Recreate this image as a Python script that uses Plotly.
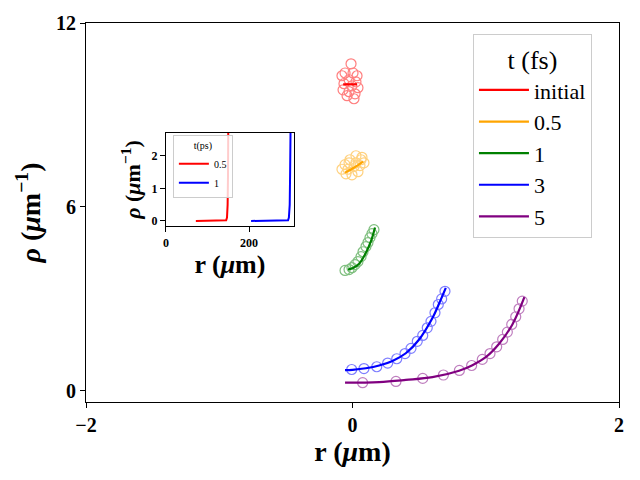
import plotly.graph_objects as go

# main panel: density profiles at early times (fs)
names = ['initial', '0.5', '1', '3', '5']
colors = ['red', 'orange', 'green', 'blue', 'purple']

# sampled points (open circles)
r_pts_init = [-0.011, -0.056, 0.004, 0.034, -0.079, -0.026, 0.026, -0.064, -0.004, 0.041, -0.071, -0.026, 0.019, -0.041, 0.011]
rho_pts_init = [10.67, 10.37, 10.37, 10.28, 10.28, 10.15, 10.08, 10.02, 9.95, 9.89, 9.82, 9.76, 9.69, 9.63, 9.53]
r_pts_05 = [-0.056, -0.019, 0.026, 0.064, 0.086, -0.079, -0.034, 0.011, 0.056, -0.049, -0.004, 0.041, -0.026, 0.026, 0.071]
rho_pts_05 = [7.38, 7.54, 7.67, 7.54, 7.44, 7.23, 7.23, 7.32, 7.35, 7.08, 7.05, 7.15, 7.44, 7.44, 7.62]
r_pts_1 = [-0.056, -0.026, -0.004, 0.019, 0.041, 0.064, 0.079, 0.101, 0.116, 0.131, 0.146, 0.161]
rho_pts_1 = [3.93, 3.96, 4.02, 4.12, 4.22, 4.38, 4.54, 4.71, 4.84, 5.00, 5.13, 5.26]
r_pts_3 = [-0.006, 0.086, 0.182, 0.264, 0.332, 0.394, 0.439, 0.486, 0.527, 0.561, 0.589, 0.619, 0.644, 0.669, 0.694]
rho_pts_3 = [0.70, 0.73, 0.79, 0.91, 1.05, 1.22, 1.39, 1.62, 1.81, 2.06, 2.27, 2.55, 2.82, 3.00, 3.25]
r_pts_5 = [0.076, 0.326, 0.527, 0.682, 0.802, 0.894, 0.974, 1.032, 1.082, 1.127, 1.162, 1.195, 1.225, 1.25, 1.274]
rho_pts_5 = [0.27, 0.31, 0.41, 0.52, 0.67, 0.83, 1.03, 1.22, 1.44, 1.68, 1.92, 2.17, 2.42, 2.68, 2.93]

# fitted curves (solid lines)
r_line_init = [-0.07, 0.034]
rho_line_init = [10.0, 10.0]
r_line_05 = [-0.056, 0.01, 0.079]
rho_line_05 = [7.12, 7.28, 7.48]
r_line_1 = [-0.034, 0.0, 0.05, 0.1, 0.14, 0.169]
rho_line_1 = [3.96, 4.0, 4.15, 4.5, 4.9, 5.33]
r_line_3 = [-0.056, 0.0, 0.1, 0.2, 0.3, 0.4, 0.5, 0.6, 0.65, 0.70]
rho_line_3 = [0.68, 0.69, 0.74, 0.83, 0.98, 1.23, 1.68, 2.38, 2.85, 3.36]
r_line_5 = [-0.056, 0.2, 0.4, 0.6, 0.8, 0.9, 1.0, 1.1, 1.2, 1.29]
rho_line_5 = [0.27, 0.29, 0.36, 0.45, 0.66, 0.84, 1.1, 1.54, 2.17, 3.06]

# inset: later times (ps)
inset_names = ['0.5', '1']
inset_colors = ['red', 'blue']
r_inset_05 = [72, 100, 130, 145, 147, 148.5, 149.5, 150]
rho_inset_05 = [0, 0, 0, 0.02, 0.1, 0.5, 1.5, 2.8]
r_inset_1 = [205, 250, 290, 294, 296, 298, 299, 300]
rho_inset_1 = [0, 0, 0, 0.02, 0.1, 0.5, 1.5, 2.8]

pts = [(r_pts_init, rho_pts_init), (r_pts_05, rho_pts_05), (r_pts_1, rho_pts_1),
       (r_pts_3, rho_pts_3), (r_pts_5, rho_pts_5)]
lines = [(r_line_init, rho_line_init), (r_line_05, rho_line_05), (r_line_1, rho_line_1),
         (r_line_3, rho_line_3), (r_line_5, rho_line_5)]

SERIF = 'Liberation Serif'
fig = go.Figure()

for (x, y), c in zip(pts, colors):
    fig.add_trace(go.Scatter(x=x, y=y, mode='markers', showlegend=False,
                             marker=dict(symbol='circle-open', size=10, color=c,
                                         line=dict(width=1.2, color=c)),
                             opacity=0.5))
for (x, y), c, n in zip(lines, colors, names):
    fig.add_trace(go.Scatter(x=x, y=y, mode='lines', name=n,
                             line=dict(color=c, width=2.2, shape='spline')))

for (x, y), c, n in zip([(r_inset_05, rho_inset_05), (r_inset_1, rho_inset_1)], inset_colors, inset_names):
    fig.add_trace(go.Scatter(x=x, y=y, mode='lines', name=n, xaxis='x2', yaxis='y2',
                             legend='legend2', line=dict(color=c, width=2)))

axis_common = dict(showline=True, linecolor='black', linewidth=1, mirror=True,
                   ticks='outside', ticklen=5, tickcolor='black', showgrid=False,
                   zeroline=False, automargin=False)

ylab = '<i>ρ</i> (<i>μ</i>m<sup>−1</sup>)'
xlab = 'r (<i>μ</i>m)'

# page body adds an 8px offset, margins compensate for it
fig.update_layout(
    width=640, height=480,
    margin=dict(l=78, r=29, t=15, b=86, autoexpand=False),
    plot_bgcolor='white', paper_bgcolor='white',
    font=dict(family=SERIF, color='black'),
    xaxis=dict(range=[-2, 2], tickvals=[-2, 0, 2], ticktext=['−2', '0', '2'],
               tickfont=dict(size=20, weight='bold'),
               title=dict(text=xlab, font=dict(size=28, weight='bold'), standoff=0),
               **axis_common),
    yaxis=dict(range=[-0.36, 12], tickvals=[0, 6, 12],
               tickfont=dict(size=20, weight='bold'),
               title=dict(text=ylab, font=dict(size=28, weight='bold'), standoff=7),
               **axis_common),
    xaxis2=dict(domain=[0.150, 0.390], anchor='y2', range=[0, 308], tickvals=[0, 200],
                tickfont=dict(size=12, weight='bold'),
                title=dict(text=xlab, font=dict(size=26, weight='bold'), standoff=2),
                **axis_common),
    yaxis2=dict(domain=[0.464, 0.710], anchor='x2', range=[-0.16, 2.7], tickvals=[0, 1, 2],
                tickfont=dict(size=12, weight='bold'),
                title=dict(text=ylab, font=dict(size=22, weight='bold'), standoff=4),
                **axis_common),
    legend=dict(title=dict(text='t (fs)', font=dict(size=26), side='top center'),
                font=dict(size=22), x=0.726, y=0.97, xanchor='left', yanchor='top',
                bgcolor='rgba(255,255,255,0.8)', bordercolor='#cccccc', borderwidth=1,
                tracegroupgap=0, itemwidth=50, entrywidth=80),
    legend2=dict(title=dict(text='t(ps)', font=dict(size=10), side='top center'),
                 font=dict(size=10), x=0.163, y=0.704, xanchor='left', yanchor='top',
                 bgcolor='rgba(255,255,255,0.8)', bordercolor='#cccccc', borderwidth=1,
                 itemwidth=30),
)

fig.write_html("out.html")
